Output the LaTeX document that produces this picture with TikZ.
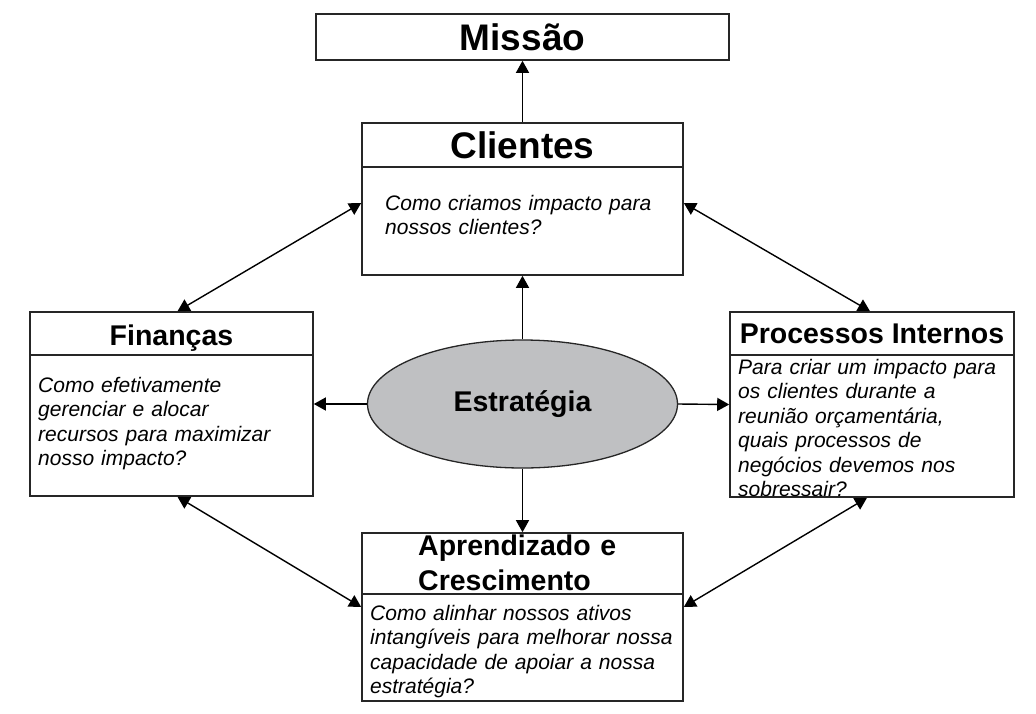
\documentclass[tikz,border=0pt]{standalone}
\usepackage{fontspec}
\setmainfont{Liberation Sans}
\usetikzlibrary{arrows.meta,shapes.geometric}
\definecolor{cinza}{RGB}{191,192,194}
\begin{document}
\begin{tikzpicture}[x=1pt,y=-1pt,
    caixa/.style={draw=black!85,line width=1.6pt,inner sep=0pt},
    titulo/.style={font=\bfseries\fontsize{28.5}{35}\selectfont,
    inner sep=0pt},
    corpo/.style={font=\itshape\fontsize{21}{24.5}\selectfont,
    inner sep=0pt,anchor=base west,align=left},
    seta/.style={line width=1.4pt,-{Triangle[length=12pt,width=13pt]}},
    dupla/.style={line width=1.4pt,
    {Triangle[length=12pt,width=13pt]}-{Triangle[length=12pt,width=13pt]}}]
    \useasboundingbox (0,0) rectangle (1036,713);
    % caixas
    \node[caixa,minimum width=413pt,minimum height=46pt,
    font=\bfseries\fontsize{37}{44}\selectfont] (mis) at (522.5,37) {Missão};
    \node[caixa,minimum width=321pt,minimum height=152pt] (cli) at (522.5,199) {};
    \node[caixa,minimum width=283pt,minimum height=184pt] (fin) at (171.5,404) {};
    \node[caixa,minimum width=284pt,minimum height=185pt] (proc) at (872,404.5) {};
    \node[caixa,minimum width=321pt,minimum height=168pt] (apr) at (522.5,617) {};
    \node[ellipse,draw=black!85,line width=1.3pt,fill=cinza,inner sep=0pt,
    minimum width=310pt,minimum height=128pt,titulo] (est) at (522.5,404) {Estratégia};
    \draw[caixa] ([yshift=-45pt]cli.north west) -- ([yshift=-45pt]cli.north east);
    \draw[caixa] ([yshift=-44pt]fin.north west) -- ([yshift=-44pt]fin.north east);
    \draw[caixa] ([yshift=-44pt]proc.north west) -- ([yshift=-44pt]proc.north east);
    \draw[caixa] ([yshift=-62pt]apr.north west) -- ([yshift=-62pt]apr.north east);
    % textos
    \node[titulo,anchor=base,font=\bfseries\fontsize{37}{44}\selectfont]
    (tcli) at (522.5,158) {Clientes};
    \node[titulo,anchor=base] (tfin) at (171.5,345) {Finanças};
    \node[titulo,anchor=base] (tproc) at (872,343) {Processos Internos};
    \node[titulo,anchor=base west,align=left,text width=260pt]
    (tapr) at (418,555) {Aprendizado e\\Crescimento};
    \node[corpo,text width=290pt] (ccli) at (385,210)
    {Como criamos impacto para\\nossos clientes?};
    \node[corpo,text width=270pt] (cfin) at (38,392)
    {Como efetivamente\\gerenciar e alocar\\recursos para maximizar\\nosso impacto?};
    \node[corpo,text width=275pt] (cproc) at (738,374)
    {Para criar um impacto para\\os clientes durante a\\reunião orçamentária,\\quais processos de\\negócios devemos nos\\sobressair?};
    \node[corpo,text width=310pt] (capr) at (370,620)
    {Como alinhar nossos ativos\\intangíveis para melhorar nossa\\capacidade de apoiar a nossa\\estratégia?};
    % setas
    \draw[seta] (cli.north) -- (mis.south);
    \draw[seta] (est.north) -- (cli.south);
    \draw[seta] (est.south) -- (apr.north);
    \draw[seta] (est.west) -- (fin.east);
    \draw[seta] (est.east) -- (proc.west);
    \draw[dupla] ([yshift=-4pt]cli.west) -- ([xshift=6pt]fin.north);
    \draw[dupla] ([yshift=-4pt]cli.east) -- ([xshift=-2pt]proc.north);
    \draw[dupla] ([xshift=6pt]fin.south) -- ([yshift=10pt]apr.west);
    \draw[dupla] ([xshift=-5pt]proc.south) -- ([yshift=10pt]apr.east);
\end{tikzpicture}
\end{document}
